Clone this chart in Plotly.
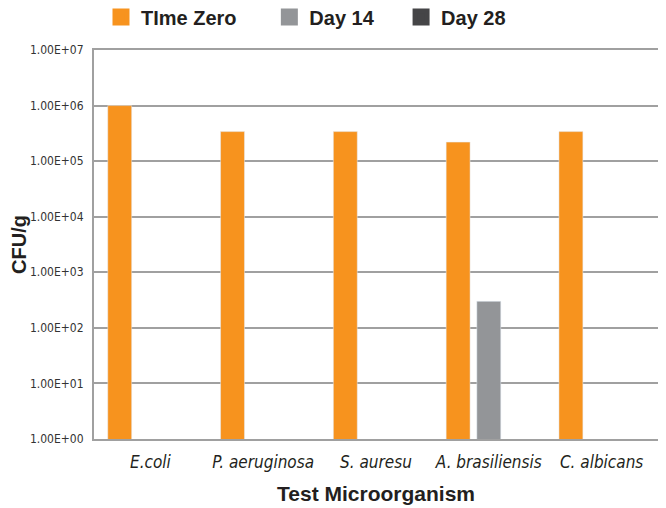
import plotly.graph_objects as go

categories = ["E.coli", "P. aeruginosa", "S. auresu", "A. brasiliensis", "C. albicans"]
time_zero = [1.0e6, 3.4e5, 3.4e5, 2.2e5, 3.4e5]
day_14 = [None, None, None, 3.0e2, None]
day_28 = [None, None, None, None, None]
series_names = ["TIme Zero", "Day 14", "Day 28"]
series_colors = ["#F7931E", "#939598", "#454547"]
tick_vals = [1e0, 1e1, 1e2, 1e3, 1e4, 1e5, 1e6, 1e7]
tick_text = ["1.00E+00", "1.00E+01", "1.00E+02", "1.00E+03", "1.00E+04", "1.00E+05", "1.00E+06", "1.00E+07"]

FONT = "DejaVu Sans Condensed, Liberation Sans, Arial, sans-serif"
BFONT = "Liberation Sans, Arial, sans-serif"
cat_labels = [f"<i>{c}</i>" for c in categories]
legend_pad = ["\u00a0" * 5, "\u00a0" * 4, ""]

fig = go.Figure()
for name, vals, col in zip(series_names, [time_zero, day_14, day_28], series_colors):
    fig.add_trace(go.Bar(name=name, x=cat_labels, y=vals, marker_color=col, showlegend=False))

# legend-only entries (on a hidden overlay axis so they do not take bar slots)
for name, col, pad in zip(series_names, series_colors, legend_pad):
    fig.add_trace(go.Bar(name=name + pad, x=[5], y=[5], xaxis="x2", yaxis="y2",
                         marker=dict(color=col, line=dict(color=col, width=5)),
                         hoverinfo="skip"))

fig.update_layout(
    width=666, height=508,
    margin=dict(l=86, r=16, t=42, b=77, autoexpand=False),
    paper_bgcolor="white", plot_bgcolor="white",
    barmode="group", bargap=0.184, bargroupgap=0.22,
    font=dict(family=FONT, color="#231F20"),
    showlegend=True,
    legend=dict(orientation="h", x=0.0124, xanchor="left", y=1.085, yanchor="middle",
                font=dict(size=20, family=BFONT, color="#231F20", weight="bold")),
    xaxis2=dict(overlaying="x", visible=False, range=[0, 1]),
    yaxis2=dict(overlaying="y", visible=False, range=[0, 1]),
)
fig.update_layout(yaxis=dict(
    type="log", range=[0, 7], tickvals=tick_vals, ticktext=tick_text,
    showline=True, linecolor="#A0A0A0", linewidth=2, mirror=True,
    showgrid=True, gridcolor="#A0A0A0", gridwidth=2,
    ticks="", ticklabelstandoff=6,
    tickfont=dict(size=12, family=FONT, color="#333333"),
    title=dict(text="<b>CFU/g</b>", font=dict(size=20, family=BFONT, color="#231F20"), standoff=8),
))
fig.update_layout(xaxis=dict(
    showline=True, linecolor="#A0A0A0", linewidth=2, mirror=True,
    ticks="", ticklabelstandoff=7, tickfont=dict(size=17, family=FONT, color="#231F20"),
    title=dict(text="<b>Test Microorganism</b>", font=dict(size=21, family=BFONT, color="#231F20"), standoff=15),
))

fig.write_html("out.html")
